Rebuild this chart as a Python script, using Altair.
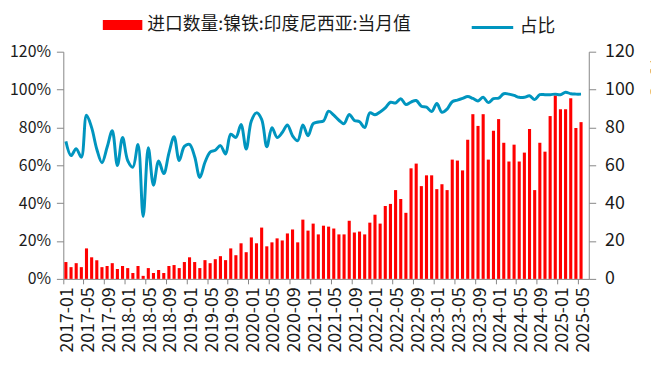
import altair as alt
import pandas as pd

# categories: 2017-01 .. 2025-06 (last slot empty, as in the reference axis)
months = [f"{y}-{m:02d}" for y in range(2017, 2026) for m in range(1, 13)][:102]

bar_name = "进口数量:镍铁:印度尼西亚:当月值"
line_name = "占比"

qty = [8.9, 6.2, 8.3, 6.2, 16.1, 11.4, 9.9, 6.2, 6.8, 8.3, 5.2, 6.8,
       5.7, 3.1, 6.8, 1.6, 5.7, 3.1, 4.7, 3.1, 6.8, 7.3, 5.7, 8.9,
       11.4, 8.9, 5.7, 9.9, 8.3, 10.4, 12.0, 9.9, 16.1, 12.5, 18.8, 14.1,
       21.9, 18.8, 27.1, 17.2, 19.3, 21.4, 20.3, 24.0, 26.1, 19.3, 31.3, 25.5,
       29.2, 23.5, 28.1, 27.6, 26.6, 23.5, 23.5, 30.7, 24.5, 25.0, 23.5, 29.7,
       33.9, 29.2, 38.5, 39.6, 46.9, 42.2, 34.9, 58.4, 60.9, 49.0, 54.7, 54.7,
       47.4, 50.0, 46.9, 63.0, 62.5, 57.3, 73.5, 87.0, 80.8, 87.0, 63.0, 78.2,
       84.4, 71.9, 62.0, 70.9, 62.0, 66.7, 79.2, 46.9, 71.9, 67.2, 86.0, 96.9,
       89.6, 89.6, 95.4, 79.7, 82.8]

pct = [72.6, 65.1, 68.8, 64.3, 86.4, 79.9, 68.5, 61.4, 69.5, 78.2, 59.9, 74.7,
       62.5, 59.0, 71.0, 33.0, 69.3, 49.5, 62.3, 55.6, 66.4, 75.1, 62.5, 70.0,
       71.0, 64.5, 53.6, 61.6, 67.0, 67.9, 70.4, 66.0, 76.4, 74.7, 81.6, 68.6,
       83.4, 87.7, 84.3, 69.8, 79.9, 74.7, 77.3, 81.3, 75.6, 73.0, 81.3, 75.6,
       82.0, 82.9, 83.4, 88.6, 86.5, 83.8, 82.0, 86.9, 83.7, 83.0, 79.9, 87.7,
       86.7, 88.2, 90.3, 93.3, 92.9, 95.2, 92.1, 93.4, 94.2, 91.2, 90.7, 88.4,
       92.6, 88.0, 89.7, 93.6, 94.4, 95.3, 96.3, 95.3, 94.0, 95.9, 93.1, 95.2,
       95.5, 97.8, 97.6, 96.9, 95.9, 95.9, 96.7, 94.7, 97.3, 97.3, 97.3, 97.6,
       97.3, 98.6, 97.8, 97.6, 97.6]

tick_months = months[0:101:4]
y_ticks = [0, 20, 40, 60, 80, 100, 120]

df = pd.DataFrame({
    "month": months,
    "qty": qty + [None],
    "pct": pct + [None],
    "s1": [bar_name] * len(months),
    "s2": [line_name] * len(months),
})

FONT = "Noto Sans CJK SC"
AX = "#868686"
TXT = "#1a1a1a"

x_enc = alt.X(
    "month:N", sort=None, title=None,
    scale=alt.Scale(paddingInner=0.4, paddingOuter=0.2),
    axis=alt.Axis(values=tick_months, labelAngle=270, bandPosition=-0.3333,
                  labelOffset=2.6, tickSize=5, labelPadding=3,
                  domainColor=AX, tickColor=AX, labelFont=FONT,
                  labelFontSize=18, labelColor=TXT, grid=False),
)

bars = alt.Chart(df).mark_bar().encode(
    x=x_enc,
    y=alt.Y("qty:Q", title="万吨", scale=alt.Scale(domain=[0, 120]),
            axis=alt.Axis(orient="right", values=y_ticks, tickSize=7,
                          labelPadding=9, domainColor=AX, tickColor=AX,
                          labelFont=FONT, labelFontSize=18, labelColor=TXT,
                          grid=False, titleAngle=90, titleAlign="left",
                          titleBaseline="bottom", titleX=60, titleY=8,
                          titleFont=FONT, titleFontSize=18, titleFontWeight="normal",
                          titleColor=TXT)),
    color=alt.Color("s1:N", scale=alt.Scale(domain=[bar_name], range=["#FF0000"]),
                    legend=alt.Legend(title=None, orient="none", legendX=40, legendY=-47,
                                      symbolType="M-1,-0.25H1V0.25H-1Z", symbolSize=1600,
                                      symbolStrokeWidth=0, labelFont=FONT,
                                      labelFontSize=18, labelColor=TXT, labelOffset=5,
                                      labelLimit=0, padding=0)),
)

line = alt.Chart(df).mark_line(strokeWidth=3, interpolate="catmull-rom").encode(
    x=x_enc,
    y=alt.Y("pct:Q", title=None, scale=alt.Scale(domain=[0, 120]),
            axis=alt.Axis(orient="left", values=y_ticks, labelExpr="datum.value + '%'",
                          tickSize=7, labelPadding=6, domainColor=AX, tickColor=AX,
                          labelFont=FONT, labelFontSize=16, labelColor=TXT, grid=False)),
    stroke=alt.Stroke("s2:N", scale=alt.Scale(domain=[line_name], range=["#0095BF"]),
                      legend=alt.Legend(title=None, orient="none", legendX=412, legendY=-47,
                                        symbolType="stroke", symbolSize=1764,
                                        symbolStrokeWidth=3, labelFont=FONT,
                                        labelFontSize=18, labelColor=TXT, labelOffset=5,
                                        labelLimit=0, padding=0)),
)

chart = alt.layer(bars, line).resolve_scale(y="independent").properties(
    width=532, height=230,
    autosize=alt.AutoSizeParams(type="none"),
    padding={"left": 56, "top": 42, "right": 63, "bottom": 90},
).configure_view(stroke=None)

chart.save("out.html", embed_options={"renderer": "svg", "actions": False})
